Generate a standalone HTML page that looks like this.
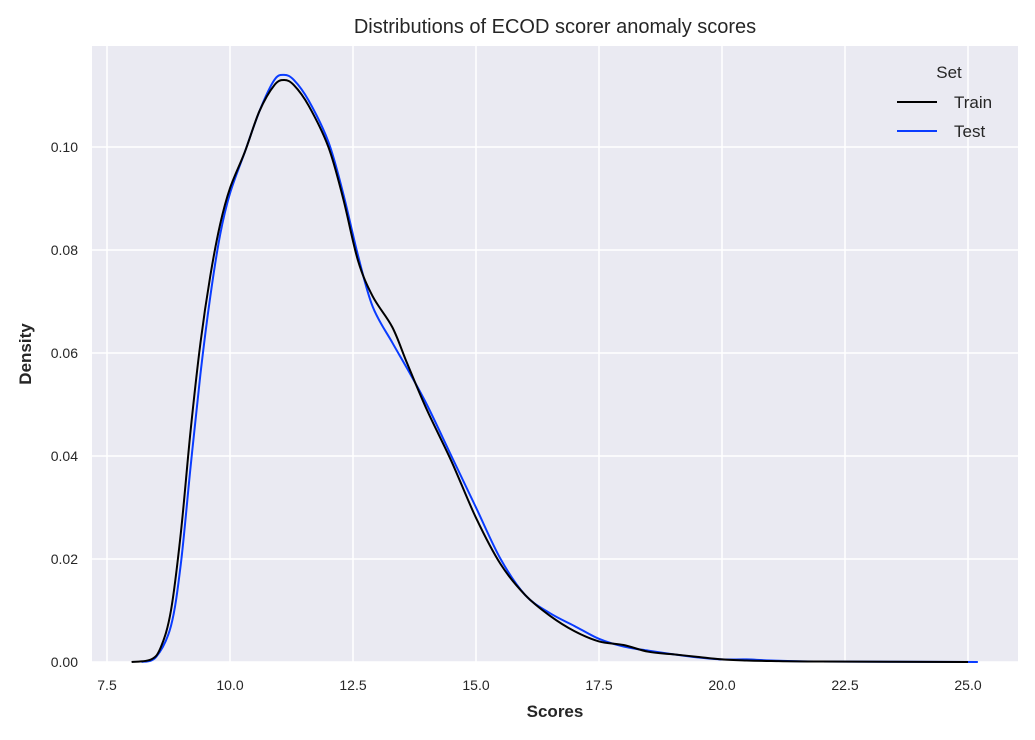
<!DOCTYPE html>
<html><head><meta charset="utf-8">
<style>
body{margin:0;background:#fff;font-family:"Liberation Sans","DejaVu Sans",sans-serif;}
svg text{font-family:"Liberation Sans","DejaVu Sans",sans-serif;fill:#262626;}
</style></head>
<body>
<svg id="chart" width="1035" height="735" xmlns="http://www.w3.org/2000/svg">
<rect x="0" y="0" width="1035" height="735" fill="#fff"/>
<rect x="92" y="46" width="926" height="616" fill="#eaeaf2"/>
<g id="grid"></g>
<g id="series"></g>
<g id="ticks"></g>
<text x="555" y="33" text-anchor="middle" font-size="20">Distributions of ECOD scorer anomaly scores</text>
<text x="555" y="717" text-anchor="middle" font-size="17" font-weight="bold">Scores</text>
<text transform="translate(31,354) rotate(-90)" text-anchor="middle" font-size="17" font-weight="bold">Density</text>
<g>
<text x="949" y="78" text-anchor="middle" font-size="17">Set</text>
<line x1="897" y1="102" x2="937" y2="102" stroke="#000" stroke-width="2"/>
<text x="954" y="108" font-size="17">Train</text>
<line x1="897" y1="131" x2="937" y2="131" stroke="#0a3cff" stroke-width="2"/>
<text x="954" y="137" font-size="17">Test</text>
</g>
</svg>
<script>
const xTicks=[7.5,10.0,12.5,15.0,17.5,20.0,22.5,25.0];
const yTicks=[0,0.02,0.04,0.06,0.08,0.10];
const trainX=[8.0,8.4,8.6,8.8,9.0,9.2,9.4,9.6,9.8,10.0,10.3,10.6,10.9,11.1,11.3,11.6,12.0,12.3,12.6,12.9,13.3,13.6,14.0,14.5,15.0,15.5,16.0,16.5,17.0,17.5,18.0,18.5,19.0,19.5,20.0,20.5,21,22,25];
const trainY=[0,0.0005,0.003,0.01,0.025,0.045,0.062,0.075,0.085,0.092,0.099,0.107,0.112,0.113,0.112,0.108,0.100,0.090,0.078,0.071,0.065,0.058,0.049,0.039,0.028,0.019,0.013,0.009,0.006,0.004,0.0033,0.002,0.0015,0.001,0.0005,0.0003,0.0002,0.0001,0];
const testX=[8.2,8.5,8.8,9.0,9.2,9.4,9.6,9.8,10.0,10.3,10.6,10.9,11.1,11.3,11.6,12.0,12.3,12.6,12.9,13.3,13.6,14.0,14.5,15.0,15.5,16.0,16.5,17.0,17.5,18.0,18.5,19,19.5,20,20.5,21,22,25.2];
const testY=[0,0.001,0.007,0.019,0.038,0.056,0.071,0.083,0.091,0.099,0.107,0.113,0.114,0.113,0.109,0.101,0.091,0.079,0.069,0.062,0.057,0.050,0.040,0.030,0.020,0.013,0.0095,0.007,0.0045,0.003,0.0022,0.0015,0.0009,0.0005,0.0005,0.0003,0.0001,0];
const NS="http://www.w3.org/2000/svg";
const sx=v=>230+(v-10)*49.2;
const sy=v=>662-v*5150;
const grid=document.getElementById('grid'),ticks=document.getElementById('ticks'),ser=document.getElementById('series');
function mk(tag,attrs,parent){const e=document.createElementNS(NS,tag);for(const k in attrs)e.setAttribute(k,attrs[k]);parent.appendChild(e);return e;}
xTicks.forEach(t=>{
 const l=mk('line',{x1:sx(t),x2:sx(t),y1:46,y2:662,stroke:'#fff','stroke-width':1.5},grid);
 
 
 const tx=mk('text',{x:sx(t),y:690,'text-anchor':'middle','font-size':14},ticks);
 tx.textContent=t.toFixed(1);
 
 
});
yTicks.forEach(t=>{
 const l=mk('line',{x1:92,x2:1018,y1:sy(t),y2:sy(t),stroke:'#fff','stroke-width':1.5},grid);
 
 
 const tx=mk('text',{x:78,y:sy(t)+5,'text-anchor':'end','font-size':14},ticks);
 tx.textContent=t.toFixed(2);
 
 
});
function path(xs,ys){
 const p=xs.map((x,i)=>[sx(x),sy(ys[i])]);
 let d='M'+p[0][0]+','+p[0][1];
 for(let i=0;i<p.length-1;i++){
  const p0=p[i-1]||p[i],p1=p[i],p2=p[i+1],p3=p[i+2]||p2;
  const c1=[p1[0]+(p2[0]-p0[0])/6,p1[1]+(p2[1]-p0[1])/6];
  const c2=[p2[0]-(p3[0]-p1[0])/6,p2[1]-(p3[1]-p1[1])/6];
  d+=` C${c1[0]},${c1[1]} ${c2[0]},${c2[1]} ${p2[0]},${p2[1]}`;
 }
 return d;
}
const te=mk('path',{d:path(testX,testY),fill:'none',stroke:'#0a3cff','stroke-width':2},ser);


const tr=mk('path',{d:path(trainX,trainY),fill:'none',stroke:'#000','stroke-width':2},ser);


</script>
</body></html>
